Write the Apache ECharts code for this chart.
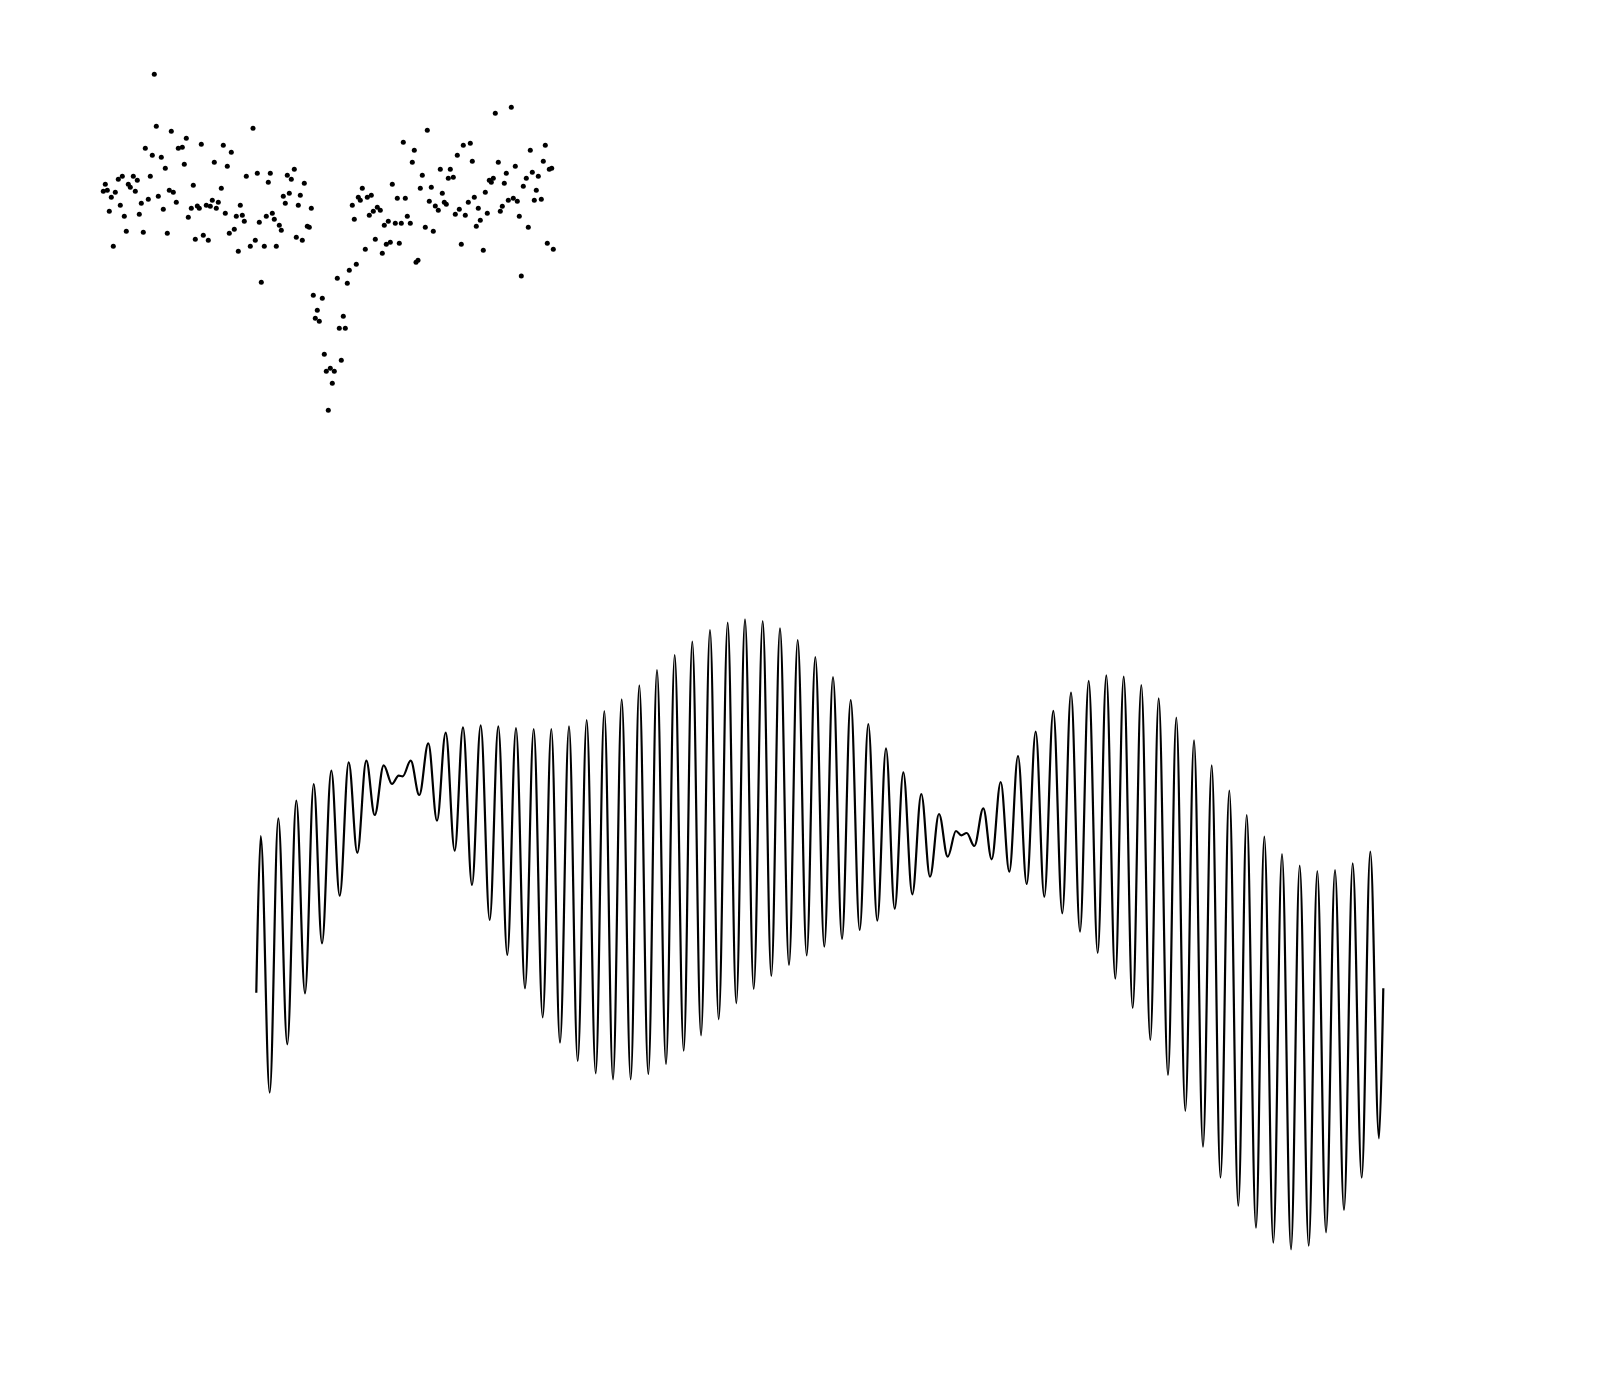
<!DOCTYPE html>
<html>
<head>
<meta charset="utf-8">
<title>scatter + wave</title>
<script src="https://cdn.jsdelivr.net/npm/echarts@6/dist/echarts.min.js"></script>
<style>
  html, body { margin: 0; padding: 0; background: #fff; }
  #chart { width: 1600px; height: 1380px; }
</style>
</head>
<body>
<div id="chart"></div>
<script>
// scatter points
const scatterX = [
  54.3, 56.3, 71.3, 86.3, 153, 45.3, 78.3, 82.3, 101.3, 123.3, 131.3, 52.3, 61.3, 84.3, 114.3, 127.3,
  65.3, 146.3, 50.3, 18.3, 22.3, 33.3, 37.3, 5.3, 28.3, 30.3, 3.3, 7.3, 35.3, 15.3, 11.3, 93.3,
  121.3, 69.3, 73.3, 58.3, 48.3, 41.3, 76.3, 20.3, 112.3, 118.3, 97.3, 99.3, 106.3, 110.3, 91.3, 116.3,
  63.3, 9.3, 140.3, 125.3, 39.3, 24.3, 88.3, 136.3, 142.3, 144.3, 26.3, 43.3, 67.3, 129.3, 134.3, 103.3,
  95.3, 108.3, 13.3, 150.3, 138.3,
  157.3, 170.3, 168.3, 187.3, 191.3, 194.3, 204.3, 183.3, 185.3, 189.3, 200.3, 198.3, 211.3, 159.3, 166.3, 172.3,
  174.3, 179.3, 181.3, 207.3, 209.3, 196.3, 202.3, 155.3, 164.3, 176.3, 161.3, 213.3, 222.3, 217.3, 215.3, 219.3,
  239.3, 245.3, 243.3, 237.3, 247.3, 249.3, 256.3, 265.3, 224.3, 226.3, 230.3, 234.3, 232.3, 241.3, 228.3, 252.3,
  254.3, 258.3, 260.3, 262.3, 267.3, 271.3, 269.3, 273.3, 277.3, 280.3, 275.3, 282.3, 284.3, 288.3, 286.3, 290.3,
  292.3, 295.3, 297.3, 299.3,
  303.3, 314.3, 312.3, 327.3, 322.3, 320.3, 331.3, 305.3, 307.3, 301.3, 310.3, 329.3, 335.3, 338.3, 342.3, 340.3,
  350.3, 348.3, 353.3, 357.3, 363.3, 370.3, 372.3, 344.3, 346.3, 325.3, 333.3, 316, 318, 355.3, 359.3, 365.3,
  368.3, 374.3, 378.3, 380.3, 376.3, 387.3, 385.3, 361.3, 383.3, 395.3, 411.3, 398.3, 389.3, 391.3, 393.3, 404.3,
  406.3, 415.3, 400.3, 402.3, 408.3, 413.3, 417.3, 419.3, 423.3, 426.3, 428.3, 430.3, 432.3, 436.3, 438.3, 434.3,
  441.3, 443.3, 445.3, 449.3, 451.7, 447.3, 453.3, 421.3
];
const scatterY = [
  340.7, 288.7, 283.7, 276.7, 286.7, 266.7, 266.7, 267.7, 270.7, 269.7, 262.7, 259.7, 257.7, 250.7, 252.7, 248.7,
  246.7, 238.7, 238.7, 235.7, 238.7, 238.7, 234.7, 230.7, 230.7, 227.7, 223.7, 224.7, 223.7, 222.7, 217.7, 229.7,
  226.7, 224.7, 222.7, 218.7, 215.7, 211.7, 212.7, 209.7, 214.7, 212.7, 209, 206.7, 209.7, 208.7, 206.7, 206.7,
  205.7, 203.7, 209.7, 201.7, 200.7, 198.7, 197.7, 198.7, 199.7, 193.7, 183.7, 182.7, 181.7, 181.7, 185.7, 179.7,
  175.7, 174.7, 168.7, 168.7, 163.7,
  241.7, 241.7, 232.7, 239.7, 235.7, 245.7, 231.7, 218.7, 211.7, 221.7, 219.7, 209.7, 206.7, 192.7, 198.7, 201.7,
  195.7, 189.7, 184.7, 188.7, 187.7, 177.7, 174.7, 174.7, 168.7, 168.7, 132.7, 119.7, 116.7, 104.7, 96.7, 93.7,
  86.7, 86.7, 98.7, 136.7, 131.7, 144.7, 150.7, 165.7, 60.7, 43.7, 46.7, 43.7, 31.7, 54.7, 4.7, 209.7,
  195.7, 217.7, 214.7, 226.7, 217.7, 219.7, 199.7, 203.7, 207.7, 204.7, 175.7, 161.7, 189.7, 193.7, 170.7, 172.7,
  230.7, 191.7, 216.7, 171.7,
  272.7, 264.7, 252.7, 284.7, 239.7, 226.7, 227.7, 216.7, 198.7, 191.7, 191.7, 213.7, 209, 204.7, 221.7, 245.7,
  245.7, 236.7, 237.7, 259.7, 269.7, 271.7, 253.7, 212.7, 210.7, 187.7, 183.7, 152.7, 154.7, 200.7, 205.7, 199.7,
  212.7, 217.7, 206.7, 194.7, 188.7, 201.7, 222.7, 170.7, 164.7, 301.7, 307.7, 252.7, 234.7, 232.7, 236.7, 231.7,
  241.7, 248.7, 203.7, 208.7, 214.7, 216.7, 213.7, 198.7, 228.7, 236.7, 187.7, 264.7, 242.7, 224.7, 238.7, 214.7,
  215.7, 253.7, 269.7, 245.7, 246.7, 171.7, 165.7, 139
];

// wave: one value at each peak / trough (plus ends and the two flat spots)
const waveT = [
  0.3, 4.7, 13.7, 22.3, 31.3, 40.3, 49, 57.7, 66, 75.3, 83.7, 92.7, 101.3, 110.3, 118.7, 127.7,
  136, 142.7, 146.7, 154.7, 163.3, 172.3, 181, 189.7, 198.7, 207, 216, 224.7, 233.7, 242.3, 251.3, 260,
  269, 277.7, 286.7, 295.3, 304, 313, 321.7, 330.7, 339.7, 348.3, 357, 365.7, 374.7, 383.3, 392.3, 401,
  410, 418.7, 427.7, 436.3, 445, 454, 462.7, 471.7, 480.3, 489, 497.7, 506.7, 515.3, 524, 533, 541.7,
  550.7, 559.3, 568.3, 577, 586, 594.7, 603.7, 612.3, 621.3, 630, 638.7, 647.3, 656.3, 665.3, 674, 683,
  691.7, 700, 705.3, 710.7, 718.3, 727.3, 735.7, 744.7, 753.3, 762, 770.7, 779.7, 788.3, 797.3, 806.3, 815,
  824, 832.7, 841.7, 850.3, 859.3, 867.7, 876.7, 885.3, 894.3, 902.7, 912, 920.3, 929.3, 938, 947, 955.7,
  964.5, 973.3, 982.3, 990.7, 1000, 1008.3, 1017.3, 1026, 1035, 1043.7, 1052.7, 1061.3, 1070, 1079, 1088, 1096.7,
  1105.7, 1114.3, 1123, 1127.3
];
const waveV = [
  257.3, 414, 157.3, 431.7, 205.7, 449.3, 256.7, 466, 306.7, 479.3, 354.3, 487.7, 397.3, 489.3, 435, 484.7,
  466, 474.3, 473.7, 489.3, 455, 506.7, 429.3, 517.3, 399.3, 522.7, 365, 524.7, 330, 523.7, 295, 522,
  261.7, 521, 232.7, 521, 207.3, 523.7, 189, 530, 176.7, 539, 170.7, 550.7, 170.7, 564.7, 176, 580,
  186, 595, 199.3, 608.3, 214.7, 620, 230.7, 627.3, 246.7, 630.7, 261, 629, 274, 621.7, 285, 610,
  294.7, 593, 303.3, 573, 311, 550, 320, 526, 329.3, 501.7, 341.3, 477.7, 355.7, 456, 373.3, 436,
  393.3, 419, 414.7, 417, 404, 441.7, 390.7, 468, 378.3, 494, 366, 518.3, 353.3, 539.2, 336.7, 557.5,
  318.3, 569.2, 297.1, 574.6, 271.3, 573.3, 242.1, 565, 210, 551.7, 175, 532.5, 139.2, 509.6, 103.3, 484.6,
  72.5, 459.3, 44.3, 435, 22.3, 413.3, 7.3, 396, 0.7, 384.3, 4.3, 379, 17.7, 380, 40, 386.7,
  72.3, 398.3, 111.7, 261.7
];

const chart = echarts.init(document.getElementById('chart'), null, { renderer: 'canvas' });

const scatterData = scatterX.map((x, i) => [x, scatterY[i]]);
const waveData = waveT.map((t, i) => [t, waveV[i]]);

chart.setOption({
  backgroundColor: '#fff',
  animation: false,
  grid: [
    { left: 100, top: 70, width: 460, height: 345 },
    { left: 256, top: 619, width: 1128, height: 631 }
  ],
  xAxis: [
    { type: 'value', gridIndex: 0, min: 0, max: 460, show: false },
    { type: 'value', gridIndex: 1, min: 0, max: 1128, show: false }
  ],
  yAxis: [
    { type: 'value', gridIndex: 0, min: 0, max: 345, show: false },
    { type: 'value', gridIndex: 1, min: 0, max: 631, show: false }
  ],
  series: [
    {
      type: 'scatter',
      xAxisIndex: 0,
      yAxisIndex: 0,
      symbolSize: 5,
      itemStyle: { color: '#000', opacity: 1 },
      data: scatterData
    },
    {
      type: 'line',
      xAxisIndex: 1,
      yAxisIndex: 1,
      showSymbol: false,
      smooth: 0.36,
      smoothMonotone: 'x',
      lineStyle: { color: '#000', width: 2.2, opacity: 1 },
      data: waveData
    }
  ]
});
</script>
</body>
</html>
